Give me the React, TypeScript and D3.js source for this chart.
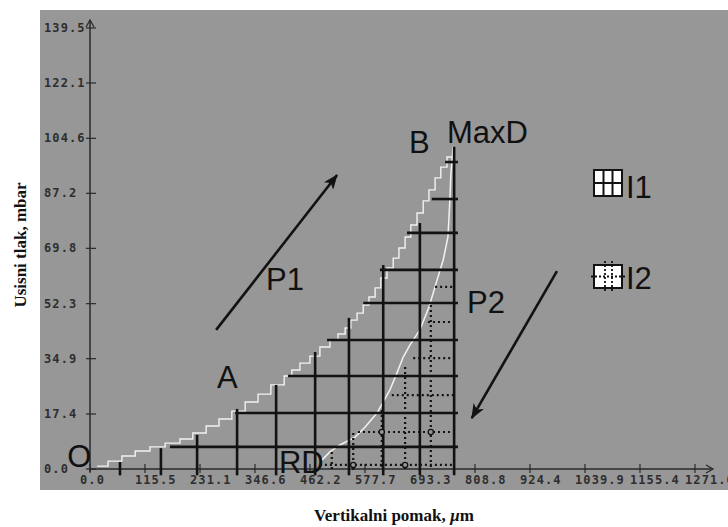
import React from "react";
import * as d3 from "d3";

// ---- axis ticks ----
const xTickValues = [0, 115.5, 231.1, 346.6, 462.2, 577.7, 693.3, 808.8, 924.4, 1039.9, 1155.4, 1271.0];
const xTickLabels = ["0.0", "115.5", "231.1", "346.6", "462.2", "577.7", "693.3", "808.8", "924.4", "1039.9", "1155.4", "1271.0"];
const yTickValues = [0, 17.4, 34.9, 52.3, 69.8, 87.2, 104.6, 122.1, 139.5];
const yTickLabels = ["0.0", "17.4", "34.9", "52.3", "69.8", "87.2", "104.6", "122.1", "139.5"];

// ---- loading curve (O -> A -> B -> MaxD) ----
const loadX = [15, 38, 67, 95, 126, 158, 189, 216, 244, 271, 298, 326, 353, 380, 408, 424, 441, 462, 483, 504, 521, 536, 548, 561, 574, 586, 599, 611, 624, 637, 649, 662, 674, 687, 700, 712, 725, 737, 750, 763];
const loadY = [0.9, 2.5, 4.1, 5.7, 7.0, 8.2, 9.5, 11.4, 13.6, 15.8, 18.3, 21.2, 23.7, 26.6, 29.4, 31.3, 33.5, 35.7, 38.6, 40.8, 42.7, 44.6, 47.1, 49.3, 51.9, 54.4, 57.3, 60.4, 63.6, 66.7, 69.9, 73.4, 77.2, 81.0, 84.8, 88.3, 92.1, 95.5, 98.7, 101.9];

// ---- unloading curve (MaxD -> RD) ----
const unloadX = [763, 758, 756, 752, 742, 731, 721, 712, 693, 672, 658, 643, 630, 603, 578, 557, 525, 504, 487];
const unloadY = [101.9, 93.0, 85.1, 73.4, 66.1, 60.7, 55.7, 51.2, 44.0, 39.2, 35.4, 29.7, 25.0, 17.7, 13.3, 10.1, 7.6, 5.4, 2.8];

// ---- I1 solid grid ----
const i1VertX = [63, 149, 225, 309, 391, 473, 544, 616, 693, 765];
const i1VertTop = [2.2, 6.6, 10.8, 19.0, 26.6, 37.0, 47.8, 64.5, 77.8, 101.9];
const i1HorY = [7.0, 17.7, 29.4, 40.8, 52.5, 63.0, 74.7, 85.4, 97.1];
const i1HorLeft = [168, 305, 416, 498, 574, 609, 666, 718, 746];
const i1Right = 773;
const i1Bottom = -2;

// ---- I2 dotted grid ----
const i2VertX = [508, 553, 613, 662, 716];
const i2VertTop = [5.4, 11.4, 18.7, 32.3, 51.9];
const i2HorY = [1.3, 11.7, 23.4, 35.1, 46.5, 57.6];
const i2HorLeft = [483, 563, 634, 679, 710, 725];
const i2Right = 765;
const i2Bottom = -0.3;
const i2MarkX = [553, 662, 613, 716];
const i2MarkY = [1.3, 1.3, 11.7, 11.7];

// ---- annotations (data coords) ----
const labelText = ["O", "A", "P1", "B", "MaxD", "P2", "RD"];
const labelX = [-48, 267, 370, 670, 750, 792, 397];
const labelY = [0.6, 25.6, 56.6, 100, 103.1, 49.3, -1.3];
const arrowFromX = [265, 981];
const arrowFromY = [44, 62.6];
const arrowToX = [519, 802];
const arrowToY = [93, 16.1];

export default function App() {
  const x = d3.scaleLinear().domain([0, 1271]).range([90, 695]);
  const y = d3.scaleLinear().domain([0, 139.5]).range([469, 28]);

  const loadPath = d3
    .line<number>()
    .x((_, i) => x(loadX[i]))
    .y((_, i) => y(loadY[i]))
    .curve(d3.curveStepAfter)(loadX) as string;
  const unloadPath = d3
    .line<number>()
    .x((_, i) => x(unloadX[i]))
    .y((_, i) => y(unloadY[i]))(unloadX) as string;

  const tickFont = {
    fontFamily: "'DejaVu Sans Mono', monospace",
    fontWeight: 700,
    fontSize: 12,
    letterSpacing: 1.1,
    fill: "#2e2e2e",
  } as const;
  const labFont = { fontFamily: "'Liberation Sans', Arial, sans-serif", fontSize: 31, fill: "#111" } as const;
  const axisColor = "#2a2a2a";
  const ink = "#121212";

  return (
    <svg width={728} height={527} style={{ position: "absolute", left: 0, top: 0, background: "#fff" }}>
      <defs>
        <marker id="ah" markerUnits="userSpaceOnUse" markerWidth={16} markerHeight={12} refX={14} refY={6} orient="auto">
          <path d="M0,0 L15,6 L0,12 L4,6 Z" fill={ink} />
        </marker>
      </defs>
      <rect x={0} y={0} width={728} height={527} fill="#fff" />
      <rect x={40} y={10} width={688} height={480} fill="#979797" />

      {/* axes */}
      <line x1={x(0)} y1={472} x2={x(0)} y2={20} stroke={axisColor} strokeWidth={1.5} />
      <path d={`M${x(0) - 4},27 L${x(0)},20 L${x(0) + 4},27`} fill="none" stroke={axisColor} strokeWidth={1.3} />
      <line x1={x(0)} y1={y(0)} x2={713} y2={y(0)} stroke={axisColor} strokeWidth={1.5} />
      <path d={`M706,${y(0) - 4} L713,${y(0)} L706,${y(0) + 4}`} fill="none" stroke={axisColor} strokeWidth={1.3} />

      {yTickValues.map((v, i) => (
        <g key={"yt" + i}>
          <line x1={x(0) - 4} x2={x(0) + 6} y1={y(v)} y2={y(v)} stroke={axisColor} strokeWidth={1.2} />
          <text x={44} y={y(v) + 4} {...tickFont}>
            {yTickLabels[i]}
          </text>
        </g>
      ))}
      {xTickValues.map((v, i) => (
        <g key={"xt" + i}>
          <line x1={x(v)} x2={x(v)} y1={y(0) - 5} y2={y(0) + 4} stroke={axisColor} strokeWidth={1.2} />
          <text x={x(v) - 10} y={484} {...tickFont}>
            {xTickLabels[i]}
          </text>
        </g>
      ))}

      {/* white curves */}
      <path d={loadPath} fill="none" stroke="#f2f2f2" strokeWidth={1.4} />
      <path d={unloadPath} fill="none" stroke="#f2f2f2" strokeWidth={1.5} />

      {/* I1 solid grid */}
      {i1VertX.map((v, i) => (
        <line key={"v1" + i} x1={x(v)} x2={x(v)} y1={y(i1VertTop[i])} y2={y(i1Bottom)} stroke={ink} strokeWidth={2.6} />
      ))}
      {i1HorY.map((v, i) => (
        <line key={"h1" + i} x1={x(i1HorLeft[i])} x2={x(i1Right)} y1={y(v)} y2={y(v)} stroke={ink} strokeWidth={2.6} />
      ))}

      {/* I2 dotted grid */}
      {i2VertX.map((v, i) => (
        <line key={"v2" + i} x1={x(v)} x2={x(v)} y1={y(i2VertTop[i])} y2={y(i2Bottom)} stroke={ink} strokeWidth={2.2} strokeDasharray="2 3" />
      ))}
      {i2HorY.map((v, i) => (
        <line key={"h2" + i} x1={x(i2HorLeft[i])} x2={x(i2Right)} y1={y(v)} y2={y(v)} stroke={ink} strokeWidth={2.2} strokeDasharray="2 3" />
      ))}
      {i2MarkX.map((v, i) => (
        <circle key={"m" + i} cx={x(v)} cy={y(i2MarkY[i])} r={2.6} fill="#979797" stroke={ink} strokeWidth={1.3} />
      ))}

      {/* arrows */}
      {arrowFromX.map((v, i) => (
        <line key={"a" + i} x1={x(v)} y1={y(arrowFromY[i])} x2={x(arrowToX[i])} y2={y(arrowToY[i])} stroke={ink} strokeWidth={2.6} markerEnd="url(#ah)" />
      ))}

      {/* labels */}
      {labelText.map((t, i) => (
        <text key={"l" + i} x={x(labelX[i])} y={y(labelY[i])} {...labFont}>
          {t}
        </text>
      ))}

      {/* legend */}
      <g>
        <rect x={594} y={170} width={28} height={26} fill="#fff" stroke={ink} strokeWidth={2} />
        <line x1={603.5} x2={603.5} y1={170} y2={196} stroke={ink} strokeWidth={2} />
        <line x1={612.5} x2={612.5} y1={170} y2={196} stroke={ink} strokeWidth={2} />
        <line x1={594} x2={622} y1={183} y2={183} stroke={ink} strokeWidth={2} />
        <text x={626} y={198} {...labFont}>I1</text>

        <rect x={594} y={265} width={28} height={23} fill="#fff" stroke={ink} strokeWidth={2} />
        <line x1={605} x2={605} y1={261} y2={293} stroke={ink} strokeWidth={1.8} strokeDasharray="2 2" />
        <line x1={612} x2={612} y1={261} y2={293} stroke={ink} strokeWidth={1.8} strokeDasharray="2 2" />
        <line x1={591} x2={626} y1={276.5} y2={276.5} stroke={ink} strokeWidth={1.8} strokeDasharray="2 2" />
        <text x={626} y={289} {...labFont}>I2</text>
      </g>

      {/* axis titles */}
      <text
        transform="translate(26,245) rotate(-90)"
        textAnchor="middle"
        fontFamily="'Liberation Serif', 'Times New Roman', serif"
        fontWeight={700}
        fontSize={17}
        fill="#111"
      >
        Usisni tlak, mbar
      </text>
      <text x={394} y={521} textAnchor="middle" fontFamily="'Liberation Serif', 'Times New Roman', serif" fontWeight={700} fontSize={17} fill="#111">
        Vertikalni pomak,{"  "}
        <tspan fontStyle="italic">µ</tspan>m
      </text>
    </svg>
  );
}
